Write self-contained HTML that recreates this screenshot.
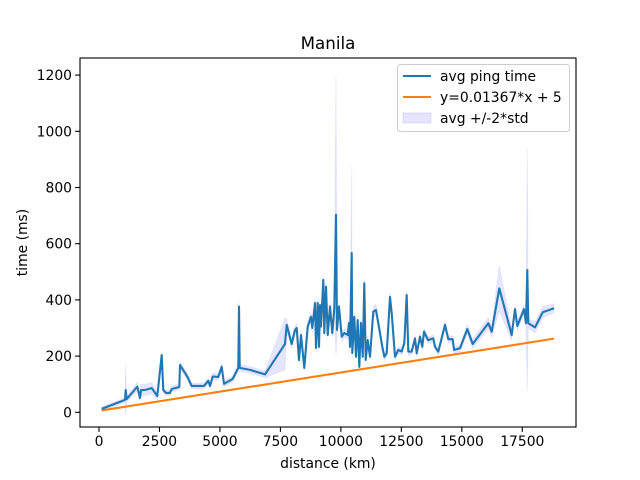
<!DOCTYPE html>
<html><head><meta charset="utf-8"><style>
body{margin:0;background:#fff}
svg{display:block;font-family:"DejaVu Sans","Liberation Sans",sans-serif}
</style></head><body>
<svg id="chart" width="640" height="480" viewBox="0 0 640 480">
<rect width="640" height="480" fill="#fff"/>
<g id="band"></g>
<g id="lines"></g>
<g id="axes"></g>
<text x="328" y="49" text-anchor="middle" font-size="16.7">Manila</text>
<text x="328" y="468" text-anchor="middle" font-size="13.9">distance (km)</text>
<text transform="translate(27,242.5) rotate(-90)" text-anchor="middle" font-size="13.9">time (ms)</text>
<g>
<rect x="397.5" y="64.5" width="172" height="67" rx="3" fill="#fff" fill-opacity="0.8" stroke="#ccc"/>
<line x1="403" y1="76" x2="431" y2="76" stroke="#1f77b4" stroke-width="2.1"/>
<text x="440" y="81" font-size="13.9">avg ping time</text>
<line x1="403" y1="97" x2="431" y2="97" stroke="#ff7f0e" stroke-width="2.1"/>
<text x="440" y="102" font-size="13.9">y=0.01367*x + 5</text>
<rect x="403" y="113" width="28" height="10" fill="rgba(0,0,255,0.1)" stroke="rgba(0,0,255,0.1)"/>
<text x="440" y="123" font-size="13.9">avg +/-2*std</text>
</g>
</svg>
<script>
const distances=[112,1075,1104,1145,1583,1695,1736,1873,2179,2410,2592,2658,2770,2935,3005,3320,3349,3650,3832,4341,4519,4589,4700,4932,5072,5168,5527,5759,5788,5816,6242,6862,7689,7759,7966,8103,8173,8268,8351,8487,8628,8764,8818,8930,8971,9041,9095,9136,9177,9273,9314,9384,9454,9550,9645,9728,9798,9839,9922,10033,10141,10282,10335,10377,10447,10472,10555,10625,10695,10761,10831,10902,10968,11026,11108,11203,11340,11451,11546,11712,11794,11893,12030,12100,12237,12373,12514,12621,12720,12787,12927,13063,13134,13270,13365,13436,13601,13820,13890,14027,14304,14440,14622,14676,14924,15225,15449,16094,16234,16549,17061,17198,17293,17570,17652,17706,17748,18024,18343,18810];
const avgPing=[12,44,79,47,91,51,79,79,86,58,204,79,69,69,83,90,168,127,94,94,112,94,127,126,162,101,119,158,376,158,151,135,243,311,243,293,300,186,275,158,305,340,300,389,229,389,233,382,305,471,282,447,275,376,282,371,703,293,376,269,282,275,318,233,567,211,340,198,328,162,318,198,459,186,257,198,358,364,317,233,198,210,411,353,198,222,216,246,417,216,216,263,210,269,233,287,257,263,233,216,311,260,260,222,228,296,243,317,287,441,275,367,307,367,317,506,317,302,356,370];
const stdPing=[4,4,45,5,8,6,10,10,10,6,4,5,5,5,5,5,6,6,5,5,5,5,6,6,6,5,5,6,12,6,6,6,46,10,8,8,8,6,8,6,8,8,8,10,8,10,8,8,8,10,8,10,8,8,8,8,250,8,8,8,8,8,8,8,154,8,8,6,8,6,8,6,10,6,8,6,10,10,8,6,6,6,8,8,6,6,6,6,8,6,6,6,6,6,6,6,6,6,6,6,8,6,6,6,6,8,8,10,10,40,10,8,8,8,8,217,8,10,10,8];
const xTicks=[0,2500,5000,7500,10000,12500,15000,17500];
const yTicks=[0,200,400,600,800,1000,1200];
const slope=0.01367, intercept=5;
const NS='http://www.w3.org/2000/svg';
const L=80,R=576,T=58,B=427;
const X=v=>99+v*0.024188;
const Y=v=>412.3-v*0.281;
function mk(tag,attrs,parent){const e=document.createElementNS(NS,tag);for(const k in attrs)e.setAttribute(k,attrs[k]);parent.appendChild(e);return e;}
const band=document.getElementById('band'),lines=document.getElementById('lines'),axes=document.getElementById('axes');
let up=[],lo=[];
for(let i=0;i<distances.length;i++){up.push(X(distances[i]).toFixed(1)+','+Y(avgPing[i]+2*stdPing[i]).toFixed(1));lo.push(X(distances[i]).toFixed(1)+','+Y(avgPing[i]-2*stdPing[i]).toFixed(1));}
const bp=mk('polygon',{points:up.concat(lo.reverse()).join(' '),fill:'rgba(0,0,255,0.1)',stroke:'rgba(0,0,255,0.06)','stroke-width':'1'},band);


const x0=distances[0],x1=distances[distances.length-1];
const fit=mk('line',{x1:X(x0),y1:Y(slope*x0+intercept),x2:X(x1),y2:Y(slope*x1+intercept),stroke:'#ff7f0e','stroke-width':'2.1'},lines);


const pl=mk('polyline',{points:distances.map((d,i)=>X(d).toFixed(1)+','+Y(avgPing[i]).toFixed(1)).join(' '),fill:'none',stroke:'#1f77b4','stroke-width':'2.1','stroke-linejoin':'round'},lines);


const fr=mk('rect',{x:L,y:T,width:R-L,height:B-T,fill:'none',stroke:'#000','stroke-width':'1.1'},axes);


xTicks.forEach(t=>{const x=X(t);
const tk=mk('line',{x1:x,y1:B,x2:x,y2:B+4.9,stroke:'#000','stroke-width':'1.1'},axes);


const tx=mk('text',{x:x,y:B+19,'text-anchor':'middle','font-size':'13.9'},axes);tx.textContent=t;

});
yTicks.forEach(t=>{const y=Y(t);
const tk=mk('line',{x1:L-4.9,y1:y,x2:L,y2:y,stroke:'#000','stroke-width':'1.1'},axes);


const tx=mk('text',{x:L-8,y:y+5,'text-anchor':'end','font-size':'13.9'},axes);tx.textContent=t;

});
</script>
</body></html>
